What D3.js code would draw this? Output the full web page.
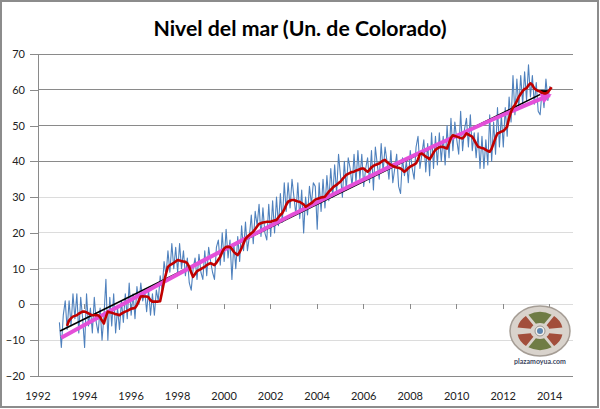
<!DOCTYPE html>
<html>
<head>
<meta charset="utf-8">
<script src="https://cdn.jsdelivr.net/npm/d3@7"></script>
<style>
  body { margin: 0; background: #fff; }
  svg { display: block; }
</style>
</head>
<body>
<svg id="chart" width="600" height="409"></svg>
<script>
// Nivel del mar (Univ. de Colorado), in mm

const xTicks = [1992, 1994, 1996, 1998, 2000, 2002, 2004, 2006, 2008, 2010, 2012, 2014]
const yTicks = [-20, -10, 0, 10, 20, 30, 40, 50, 60, 70]

// monthly series (blue), first value ~ end of 1992
const blueStart = 1992.92
const blueValues = [
  -5, -12, -3, 1, -7, 1, -6, 3, -4, 3, -8, 2,        // 1993
  -4, -12, 3, -6, -1, -8, 2, -5, -8, -1, -10, -3,    // 1994
  7, -10, 2, -6, 3, -8, -1, -7, 1, -5, 3, -4,        // 1995
  6, -3, 3, -4, 5, 0, 6, 1, 4, -2, 4, -3,            // 1996
  3, -3, 4, 1, 8, 4, 12, 8, 15, 9, 17, 10,           // 1997
  16, 9, 17, 10, 15, 8, 13, 6, 4, 10, 13, 7,         // 1998
  14, 9, 7, 15, 8, 16, 12, 9, 7, 16, 18, 11,         // 1999
  20, 12, 21, 13, 18, 7, 17, 10, 19, 12, 22, 15,     // 2000
  23, 15, 19, 25, 17, 26, 22, 28, 19, 27, 20, 18,    // 2001
  28, 19, 29, 20, 30, 22, 31, 23, 34, 26, 34, 27,    // 2002
  35, 30, 25, 34, 24, 32, 20, 30, 25, 33, 28, 34,    // 2003
  33, 21, 34, 26, 35, 27, 36, 29, 38, 30, 39, 31,    // 2004
  42, 36, 30, 40, 32, 41, 38, 33, 42, 34, 43, 35,    // 2005
  42, 33, 38, 41, 34, 43, 32, 44, 39, 35, 45, 37,    // 2006
  44, 40, 35, 43, 34, 38, 42, 33, 31, 41, 36, 40,    // 2007
  34, 43, 38, 35, 44, 47, 38, 42, 46, 37, 45, 36,    // 2008
  48, 38, 47, 39, 48, 40, 47, 39, 50, 41, 52, 43,    // 2009
  51, 46, 42, 54, 43, 49, 52, 44, 53, 43, 48, 41,    // 2010
  48, 38, 47, 38, 46, 39, 53, 40, 51, 42, 55, 44,    // 2011
  53, 44, 55, 47, 58, 51, 64, 53, 63, 55, 64, 56,    // 2012
  65, 57, 67, 58, 64, 56, 62, 54, 53, 60, 55, 63,    // 2013
  57, 61                                             // 2014
]

// running mean (red), starts a few months later
const redStart = 1993.25
const redValues = [
  -6.0, -4.5, -3.9, -3.4, -3.2, -3.0, -2.6, -2.3, -2.0,                // 1993 (abr-dic)
  -2.0, -2.2, -2.5, -2.8, -3.0, -3.0, -3.0, -3.0, -3.5, -4.5, -5.3, -3.5, // 1994
  -2.0, -2.2, -2.3, -2.5, -2.7, -2.8, -3.0, -2.6, -2.3, -2.0, -1.8, -1.5, // 1995
  -1.2, -1.1, -1.0, -0.2, 1.0, 2.2, 2.3, 2.2, 2.2, 2.0, 1.2, 0.8,         // 1996
  0.8, 0.8, 0.8, 0.9, 3.5, 6.3, 8.5, 10.5, 11.0, 11.3, 11.6, 12.0,        // 1997
  12.4, 12.3, 12.1, 12.0, 11.9, 11.5, 10.5, 9.0, 7.7, 8.5, 9.3, 9.6,      // 1998
  9.9, 10.2, 10.5, 11.0, 11.3, 11.5, 11.3, 11.0, 11.6, 12.5, 13.3, 14.6,  // 1999
  15.6, 16.1, 16.1, 16.1, 15.5, 14.7, 14.2, 13.8, 14.6, 15.7, 17.0, 18.3, // 2000
  18.9, 19.4, 19.9, 20.3, 21.0, 21.8, 22.5, 22.7, 22.9, 23.0, 23.1, 23.1, // 2001
  23.1, 23.3, 23.5, 23.6, 24.3, 25.0, 25.5, 26.5, 27.8, 28.7, 29.0, 29.2, // 2002
  29.2, 29.0, 28.8, 28.7, 28.3, 28.0, 27.3, 27.6, 28.0, 28.3, 28.8, 29.3, // 2003
  29.5, 29.7, 29.9, 30.0, 30.1, 30.8, 31.5, 32.0, 32.6, 33.1, 33.4, 33.9, // 2004
  34.3, 35.0, 35.6, 36.2, 36.5, 36.8, 37.0, 37.1, 37.4, 37.6, 37.8, 38.0, // 2005
  38.0, 37.5, 37.1, 37.6, 38.3, 38.7, 39.0, 39.2, 39.4, 39.8, 40.2, 40.4, // 2006
  39.8, 39.4, 39.0, 38.7, 38.5, 38.3, 38.2, 38.0, 37.6, 37.1, 37.5, 38.1, // 2007
  38.5, 38.8, 39.1, 39.4, 40.5, 42.0, 42.2, 41.8, 41.3, 41.0, 40.6, 41.4, // 2008
  42.4, 43.2, 43.6, 43.9, 44.1, 44.0, 43.8, 43.6, 45.0, 46.5, 47.3, 47.1, // 2009
  46.9, 46.7, 46.5, 46.4, 47.0, 47.8, 47.5, 47.2, 46.9, 46.0, 45.0, 44.1, // 2010
  43.9, 43.7, 43.6, 43.2, 42.9, 42.7, 43.5, 45.0, 46.5, 47.8, 48.0, 48.3, // 2011
  48.5, 49.0, 49.7, 52.0, 53.8, 55.0, 55.7, 56.8, 58.0, 58.8, 59.6, 60.2, // 2012
  60.4, 61.2, 61.8, 61.4, 60.4, 60.0, 59.7, 59.5, 59.2, 59.0, 59.0, 59.3, // 2013
  60.0, 60.7                                                              // 2014
]

// linear trend (black)
const linYears = [1992.95, 2013.9]
const linValues = [-7.4, 59.7]

// quadratic trend (magenta)
const quadYears = [1993, 1995, 1997, 1999, 2001, 2003, 2005, 2007, 2009, 2011, 2013, 2014]
const quadValues = [-9.3, -2.2, 4.9, 11.9, 18.7, 25.3, 31.8, 38.1, 44.2, 50.1, 55.8, 58.5]

const svg = d3.select('#chart')
const font = 'Lato, "Open Sans", sans-serif'

const x = d3.scaleLinear().domain([1992, 2015]).range([38, 573])
const y = d3.scaleLinear().domain([-20, 70]).range([376, 54])

svg.append('rect')
    .attr('x', 1).attr('y', 1).attr('width', 597).attr('height', 406)
    .attr('fill', '#fff').attr('stroke', '#8c8c8c').attr('stroke-width', 2)

// gridlines (upper ones come out darker in the original)
svg.append('g').selectAll('line')
    .data(yTicks)
    .join('line')
    .attr('x1', 38).attr('x2', 573)
    .attr('y1', d => y(d)).attr('y2', d => y(d))
    .attr('stroke', d => (d >= 40 || d == -20) ? '#8a8a8a' : '#dcdcdc')
    .attr('stroke-width', 1)
    .attr('shape-rendering', 'crispEdges')

// y axis
const yAxis = svg.append('g')
    .attr('transform', 'translate(38,0)')
    .call(d3.axisLeft(y).tickValues(yTicks).tickSize(8).tickPadding(5))
yAxis.select('.domain').attr('stroke', '#8a8a8a').attr('shape-rendering', 'crispEdges')
yAxis.selectAll('.tick line').attr('stroke', '#8a8a8a').attr('shape-rendering', 'crispEdges')
yAxis.selectAll('.tick text')
    .attr('font-family', font).attr('font-size', 11).attr('fill', '#222')

// x axis crosses at 0: only tick marks there, labels at the bottom
svg.append('g').selectAll('line')
    .data(xTicks)
    .join('line')
    .attr('x1', d => x(d)).attr('x2', d => x(d))
    .attr('y1', y(0)).attr('y2', y(0) + 5)
    .attr('stroke', '#8a8a8a')
    .attr('shape-rendering', 'crispEdges')

svg.append('g').selectAll('text')
    .data(xTicks)
    .join('text')
    .attr('x', d => x(d))
    .attr('y', 400)
    .attr('text-anchor', 'middle')
    .attr('font-family', font).attr('font-size', 11).attr('fill', '#222')
    .text(d => d)

// arrow heads for the trend lines
const defs = svg.append('defs')
defs.append('marker')
    .attr('id', 'arrowBlack')
    .attr('markerUnits', 'userSpaceOnUse')
    .attr('viewBox', '0 0 10 10').attr('refX', 8).attr('refY', 5)
    .attr('markerWidth', 11).attr('markerHeight', 8)
    .attr('orient', 'auto')
    .append('path').attr('d', 'M0,0 L10,5 L0,10 Z').attr('fill', '#000')
defs.append('marker')
    .attr('id', 'arrowPink')
    .attr('markerUnits', 'userSpaceOnUse')
    .attr('viewBox', '0 0 10 10').attr('refX', 8).attr('refY', 5)
    .attr('markerWidth', 13).attr('markerHeight', 11)
    .attr('orient', 'auto')
    .append('path').attr('d', 'M0,0 L10,5 L0,10 Z').attr('fill', '#e44fd8')

const line = d3.line().x(d => x(d[0])).y(d => y(d[1]))

const blue = blueValues.map((v, i) => [blueStart + i / 12, v])
const red = redValues.map((v, i) => [redStart + i / 12, v])
const lin = linYears.map((yr, i) => [yr, linValues[i]])
const quad = quadYears.map((yr, i) => [yr, quadValues[i]])

svg.append('path')
    .datum(blue)
    .attr('d', line)
    .attr('fill', 'none')
    .attr('stroke', '#4f81bd')
    .attr('stroke-width', 1.1)
    .attr('stroke-linejoin', 'round')

svg.append('path')
    .datum(lin)
    .attr('d', line)
    .attr('fill', 'none')
    .attr('stroke', '#000')
    .attr('stroke-width', 1.6)
    .attr('marker-end', 'url(#arrowBlack)')

svg.append('path')
    .datum(quad)
    .attr('d', line.curve(d3.curveMonotoneX))
    .attr('fill', 'none')
    .attr('stroke', '#e44fd8')
    .attr('stroke-width', 4)
    .attr('marker-end', 'url(#arrowPink)')

line.curve(d3.curveLinear)
svg.append('path')
    .datum(red)
    .attr('d', line)
    .attr('fill', 'none')
    .attr('stroke', '#c00000')
    .attr('stroke-width', 2.6)
    .attr('stroke-linejoin', 'round')

// title, squeezed to the width it has in the original
const title = svg.append('text')
    .attr('x', 300).attr('y', 36)
    .attr('text-anchor', 'middle')
    .attr('font-family', font).attr('font-weight', 'bold')
    .attr('font-size', 20).attr('fill', '#000')
    .text('Nivel del mar (Un. de Colorado)')
const tw = title.node().getComputedTextLength()
title.attr('font-size', 20 * 293 / tw)

// plazamoyua.com logo, bottom right
const logo = svg.append('g').attr('transform', 'translate(540,331)')
logo.append('ellipse')
    .attr('rx', 30).attr('ry', 25)
    .attr('fill', '#d9d3cc').attr('stroke', '#a59d95').attr('stroke-width', 1.5)
const seg = logo.append('g').attr('transform', 'scale(1.2,1)')
const arc = d3.arc().innerRadius(8).outerRadius(19).padAngle(0.12)
const segments = [
  {a0: -0.6, a1: 0.6, c: '#6f7c45'},
  {a0: 0.6, a1: 1.45, c: '#a24e3b'},
  {a0: 1.69, a1: 2.54, c: '#a24e3b'},
  {a0: 2.54, a1: 3.74, c: '#6f7c45'},
  {a0: 3.74, a1: 4.59, c: '#a24e3b'},
  {a0: 4.83, a1: 5.68, c: '#a24e3b'}
]
seg.selectAll('path')
    .data(segments)
    .join('path')
    .attr('d', d => arc({startAngle: d.a0, endAngle: d.a1}))
    .attr('fill', d => d.c)
logo.append('circle').attr('r', 5).attr('fill', '#f2f0ec').attr('stroke', '#9a948d')
logo.append('circle').attr('r', 3).attr('fill', '#5f87b0')
svg.append('text')
    .attr('x', 540).attr('y', 364)
    .attr('text-anchor', 'middle')
    .attr('font-family', font).attr('font-weight', 'bold')
    .attr('font-size', 7).attr('fill', '#3b4660')
    .text('plazamoyua.com')
</script>
</body>
</html>
